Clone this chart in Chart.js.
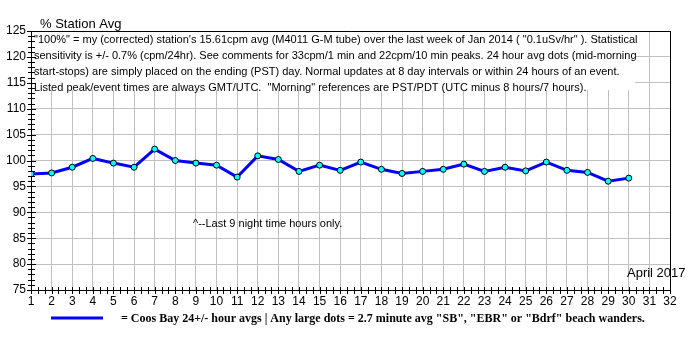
<!DOCTYPE html>
<html>
<head>
<meta charset="utf-8">
<script src="https://cdn.jsdelivr.net/npm/chart.js@4/dist/chart.umd.min.js"></script>
<style>
  html, body { margin: 0; padding: 0; background: #fff; }
  #wrap { width: 700px; height: 350px; }
</style>
</head>
<body>
<div id="wrap"><canvas id="chart" width="700" height="350"></canvas></div>
<script>
// days of April 2017
const days = [1,2,3,4,5,6,7,8,9,10,11,12,13,14,15,16,17,18,19,20,21,22,23,24,25,26,27,28,29,30];
// % of station average, 24 hour avgs
const pctAvg = [97.4,97.6,98.7,100.4,99.5,98.7,102.2,100.0,99.5,99.1,96.8,100.9,100.2,97.9,99.1,98.1,
                99.7,98.3,97.5,97.9,98.3,99.3,97.9,98.7,98.0,99.7,98.1,97.7,96.0,96.6];

const yTitle = "% Station Avg";
const noteLines = [
  "\"100%\" = my (corrected) station's 15.61cpm avg (M4011 G-M tube) over the last week of Jan 2014 ( \"0.1uSv/hr\" ). Statistical",
  "sensitivity is +/- 0.7% (cpm/24hr). See comments for 33cpm/1 min and 22cpm/10 min peaks. 24 hour avg dots (mid-morning",
  "start-stops) are simply placed on the ending (PST) day. Normal updates at 8 day intervals or within 24 hours of an event.",
  "Listed peak/event times are always GMT/UTC.  \"Morning\" references are PST/PDT (UTC minus 8 hours/7 hours)."
];
const nightNote = "^--Last 9 night time hours only.";
const monthLabel = "April 2017";
const legendText = "= Coos Bay 24+/- hour avgs | Any large dots = 2.7 minute avg \"SB\", \"EBR\" or \"Bdrf\" beach wanders.";

const sans = "'Liberation Sans', Arial, sans-serif";
const serif = "'Liberation Serif', 'Times New Roman', serif";

// white note box, minor ticks, borders, texts and legend
const extras = {
  id: 'extras',
  beforeDatasetsDraw(chart) {
    const ctx = chart.ctx, a = chart.chartArea;
    ctx.save();
    ctx.fillStyle = '#fff';
    ctx.fillRect(a.left + 1, a.top + 1, 603, 58);
    ctx.fillStyle = '#000';
    ctx.font = '11px ' + sans;
    ctx.textBaseline = 'middle';
    noteLines.forEach((t, i) => ctx.fillText(t, a.left + 3, a.top + 9 + i * 16));
    ctx.fillText(nightNote, 193, 224);
    ctx.restore();
  },
  afterDraw(chart) {
    const ctx = chart.ctx, a = chart.chartArea;
    const xs = chart.scales.x, ys = chart.scales.y;
    ctx.save();
    ctx.fillStyle = '#000';
    ctx.font = '13px ' + sans;
    ctx.textBaseline = 'alphabetic';
    ctx.fillText(yTitle, 40, 28);
    ctx.fillText(monthLabel, 627, 277);

    ctx.strokeStyle = '#000';
    ctx.lineWidth = 1;
    ctx.beginPath();
    // top and right frame
    ctx.moveTo(a.left, a.top + 0.5); ctx.lineTo(a.right + 0.5, a.top + 0.5);
    ctx.moveTo(a.right + 0.5, a.top); ctx.lineTo(a.right + 0.5, a.bottom);
    // y minor ticks
    for (let v = ys.min; v <= ys.max; v += 1) {
      const y = Math.round(ys.getPixelForValue(v)) + 0.5;
      const len = (v % 5 === 0) ? 4 : 3;
      ctx.moveTo(a.left - len, y); ctx.lineTo(a.left + len + 1, y);
    }
    // x minor ticks
    for (let k = 0; k <= (xs.max - xs.min) * 3; k++) {
      const x = Math.round(xs.getPixelForValue(xs.min + k / 3)) + 0.5;
      ctx.moveTo(x, a.bottom - 3); ctx.lineTo(x, a.bottom + 4);
    }
    ctx.stroke();

    // legend
    ctx.strokeStyle = '#0000ff';
    ctx.lineWidth = 3;
    ctx.beginPath();
    ctx.moveTo(51, 318); ctx.lineTo(103, 318);
    ctx.stroke();
    ctx.fillStyle = '#000';
    ctx.font = 'bold 12px ' + serif;
    ctx.textBaseline = 'middle';
    ctx.fillText(legendText, 121, 319);
    ctx.restore();
  }
};

new Chart(document.getElementById('chart'), {
  type: 'line',
  data: {
    datasets: [{
      data: days.map((d, i) => ({ x: d, y: pctAvg[i] })),
      borderColor: '#0000ff',
      borderWidth: 3,
      pointBackgroundColor: '#00ffff',
      pointBorderColor: '#000',
      pointBorderWidth: 1,
      pointRadius: 3,
      tension: 0,
      fill: false
    }]
  },
  options: {
    responsive: false,
    animation: false,
    layout: { padding: { top: 31, right: 30, left: 0, bottom: 0 } },
    plugins: { legend: { display: false }, tooltip: { enabled: false } },
    scales: {
      x: {
        type: 'linear', min: 1, max: 32,
        afterFit: s => { s.height = 60; },
        ticks: { stepSize: 1, autoSkip: false, maxRotation: 0, padding: 4, color: '#000',
                 font: { family: sans, size: 12 } },
        grid: { color: '#c0c0c0', drawTicks: false },
        border: { color: '#000' }
      },
      y: {
        min: 75, max: 125,
        afterFit: s => { s.width = 31; },
        ticks: { stepSize: 5, padding: 5, color: '#000', font: { family: sans, size: 12 } },
        grid: { color: '#c0c0c0', drawTicks: false },
        border: { color: '#000' }
      }
    }
  },
  plugins: [extras]
});
</script>
</body>
</html>
